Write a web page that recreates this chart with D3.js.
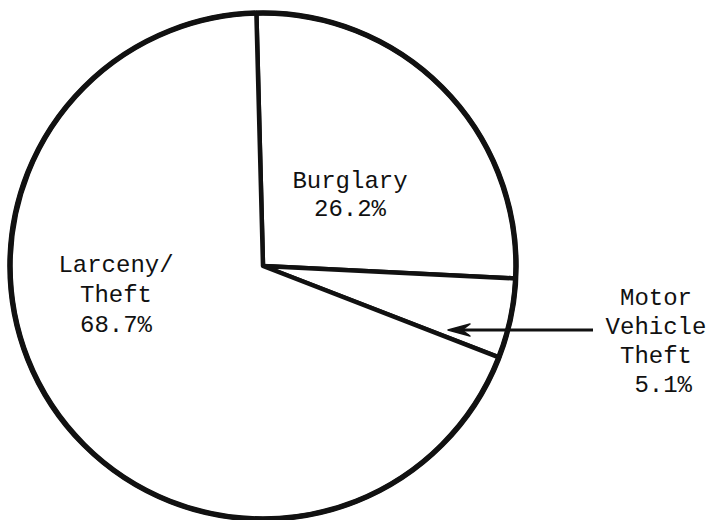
<!DOCTYPE html>
<html>
<head>
<meta charset="utf-8">
<script src="https://cdn.jsdelivr.net/npm/d3@7"></script>
<style>
  html, body { margin: 0; padding: 0; background: #fff; }
  svg text { font-family: "Liberation Mono", "DejaVu Sans Mono", monospace; font-size: 24px; fill: #111; }
</style>
</head>
<body>
<svg id="chart" width="711" height="520"></svg>
<script>
// slice data, clockwise from the top
const categories = ['Burglary', 'Motor Vehicle Theft', 'Larceny/Theft'];
const shares = [26.2, 5.1, 68.7];
const nameLines = [['Burglary'], ['Motor', 'Vehicle', 'Theft'], ['Larceny/', 'Theft']];

const width = 711, height = 520;
const cx = 263, cy = 266, radius = 253;
const startDeg = -1.5;

const svg = d3.select('#chart');
const g = svg.append('g').attr('transform', 'translate(' + cx + ',' + cy + ')');

const pie = d3.pie()
  .sort(null)
  .value(d => d)
  .startAngle(startDeg * Math.PI / 180)
  .endAngle((360 + startDeg) * Math.PI / 180);

const arc = d3.arc().innerRadius(0).outerRadius(radius);
const slices = pie(shares);

// white wedges with black radial edges
g.selectAll('path.slice')
  .data(slices)
  .enter().append('path')
    .attr('class', 'slice')
    .attr('d', arc)
    .attr('fill', '#fff')
    .attr('stroke', '#111')
    .attr('stroke-width', 4.5)
    .attr('stroke-linejoin', 'round');

// heavier outer ring on top
g.append('circle')
  .attr('r', radius)
  .attr('fill', 'none')
  .attr('stroke', '#111')
  .attr('stroke-width', 5.5);

// labels: anchor point (centre x, first baseline) and line spacing for each slice
const labelPos = [
  { x: 350, y: 188, dy: 28, pctPad: '' },
  { x: 656, y: 305, dy: 29, pctPad: ' ' },
  { x: 116, y: 272, dy: 30, pctPad: '' }
];

categories.forEach(function(c, i) {
  const lines = nameLines[i].concat([labelPos[i].pctPad + shares[i] + '%']);
  const t = svg.append('text')
    .attr('text-anchor', 'middle')
    .attr('xml:space', 'preserve');
  lines.forEach(function(s, j) {
    t.append('tspan')
      .attr('x', labelPos[i].x)
      .attr('y', labelPos[i].y + j * labelPos[i].dy)
      .text(s);
  });
});

// arrow pointing from the motor vehicle label into its thin slice
const arrowY = 330, arrowX0 = 593, arrowX1 = 448;
svg.append('line')
  .attr('x1', arrowX0).attr('y1', arrowY)
  .attr('x2', arrowX1 + 6).attr('y2', arrowY)
  .attr('stroke', '#111')
  .attr('stroke-width', 3);
svg.append('path')
  .attr('d', 'M' + arrowX1 + ',' + arrowY +
             'L' + (arrowX1 + 22) + ',' + (arrowY - 6) +
             'L' + (arrowX1 + 14) + ',' + arrowY +
             'L' + (arrowX1 + 22) + ',' + (arrowY + 6) + 'Z')
  .attr('fill', '#111')
  .attr('stroke', '#111')
  .attr('stroke-width', 1.5)
  .attr('stroke-linejoin', 'round');
</script>
</body>
</html>
